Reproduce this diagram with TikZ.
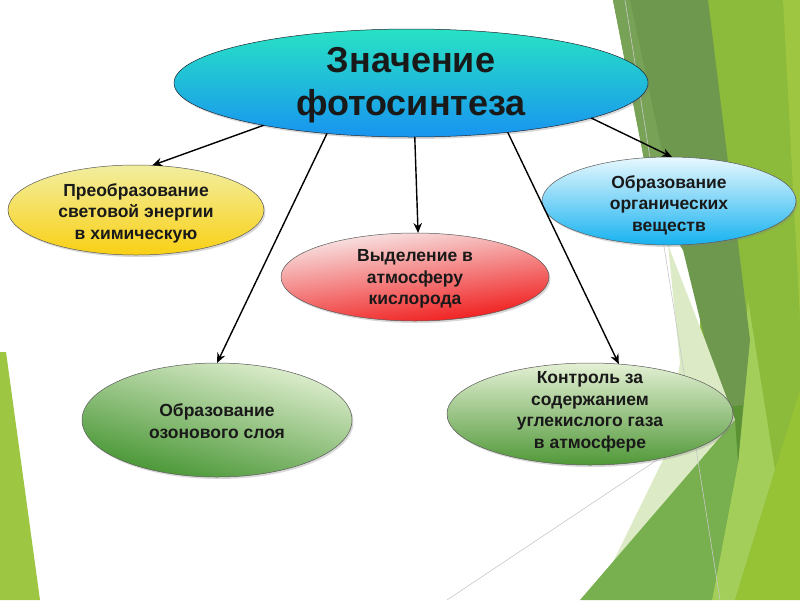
\documentclass[tikz,border=0pt]{standalone}
\usepackage{fontspec}
\setmainfont{Liberation Sans}
\usetikzlibrary{shapes.geometric,arrows.meta,shadows}
\definecolor{darkband}{RGB}{110,152,78}
\definecolor{darkbandl}{RGB}{120,162,86}
\definecolor{darkspot}{RGB}{90,146,52}
\definecolor{olive}{RGB}{140,186,58}
\definecolor{rstrip}{RGB}{158,198,64}
\definecolor{lstripe}{RGB}{164,206,90}
\definecolor{palegr}{RGB}{220,235,198}
\definecolor{medgr}{RGB}{120,176,80}
\definecolor{ygreen}{RGB}{150,194,54}
\definecolor{lefttri}{RGB}{157,198,66}
\definecolor{thinline}{RGB}{200,200,200}
\definecolor{txtc}{RGB}{25,25,25}
\definecolor{edgec}{RGB}{90,90,90}
\definecolor{mainedge}{RGB}{30,40,50}
\definecolor{mainA}{RGB}{40,226,196}
\definecolor{mainB}{RGB}{34,200,240}
\definecolor{mainC}{RGB}{24,148,240}
\definecolor{yelA}{RGB}{242,238,160}
\definecolor{yelB}{RGB}{249,208,20}
\definecolor{redA}{RGB}{248,236,236}
\definecolor{redM}{RGB}{242,110,110}
\definecolor{redB}{RGB}{240,20,20}
\definecolor{bluA}{RGB}{232,248,254}
\definecolor{bluB}{RGB}{22,178,240}
\definecolor{ozA}{RGB}{226,240,210}
\definecolor{ozM}{RGB}{148,198,116}
\definecolor{ozB}{RGB}{68,148,48}
\definecolor{coA}{RGB}{228,240,212}
\definecolor{coM}{RGB}{168,208,136}
\definecolor{coB}{RGB}{80,152,56}
\begin{document}
\begin{tikzpicture}[x=1pt,y=-1pt,
  bubble/.style={ellipse, draw=edgec, line width=0.5pt, inner sep=0pt, outer sep=0pt,
    drop shadow={shadow xshift=1.5pt, shadow yshift=-2pt, opacity=0.3}},
  lbl/.style={align=center, text=txtc, inner sep=0pt, font=\bfseries\fontsize{17.5}{21.5}\selectfont},
  arr/.style={draw=black, line width=1.4pt, -{Stealth[length=10pt,width=8.5pt]}}]
\useasboundingbox (0,0) rectangle (800,600);
\fill[white] (0,0) rectangle (800,600);
% background decoration
\fill[olive] (700,0) -- (800,0) -- (800,600) -- (700,600) -- cycle;
\fill[rstrip] (783,0) -- (800,0) -- (800,320) -- cycle;
\fill[lstripe] (748,300) -- (775,470) -- (735,600) -- (712,600) -- (738,463) -- cycle;
\fill[ygreen] (735,600) -- (775,470) -- (800,390) -- (800,600) -- cycle;
\fill[darkband] (613,0) -- (708,0) -- (750,340) -- (738,463) -- (705,340) -- (683,250) -- (652,200) -- cycle;
\fill[darkbandl] (613,0) -- (630,0) -- (683,250) -- (652,200) -- cycle;
\fill[darkspot] (728,407) -- (743,405) -- (738,463) -- cycle;
\fill[palegr] (668,245) -- (705,340) -- (735,420) -- (613,562) -- (663,460) -- (680,363) -- cycle;
\fill[medgr] (580,600) -- (735,420) -- (738,463) -- (712,600) -- cycle;
\fill[lefttri] (0,352) -- (6,352) -- (40,600) -- (0,600) -- cycle;
\draw[thinline, line width=0.6pt] (625,0) -- (720,600);
\draw[thinline, line width=0.6pt] (447,600) -- (720,418);
% ellipses
\node[bubble, draw=mainedge, minimum width=474pt, minimum height=108pt,
  top color=mainA, middle color=mainB, bottom color=mainC] (main) at (411,83) {};
\node[bubble, minimum width=256pt, minimum height=90pt,
  top color=yelA, bottom color=yelB] (energy) at (136,210) {};
\node[bubble, minimum width=268pt, minimum height=88pt,
  top color=redA, middle color=redM, bottom color=redB, shading angle=8] (oxygen) at (415,277) {};
\node[bubble, minimum width=254pt, minimum height=88pt,
  top color=bluA, bottom color=bluB] (organic) at (669,201) {};
\node[bubble, minimum width=270pt, minimum height=114pt,
  top color=ozA, middle color=ozM, bottom color=ozB, shading angle=-15] (ozone) at (217,420) {};
\node[bubble, minimum width=286pt, minimum height=102pt,
  top color=coA, middle color=coM, bottom color=coB] (co2) at (590,414) {};
% texts
\node[lbl, font=\bfseries\fontsize{36}{43}\selectfont] (maintxt) at ([yshift=-2pt]main.center) {Значение\\фотосинтеза};
\node[lbl] (energytxt) at ([yshift=-3pt]energy.center) {Преобразование\\световой энергии\\в химическую};
\node[lbl] (oxygentxt) at ([yshift=-2pt]oxygen.center) {Выделение в\\атмосферу\\кислорода};
\node[lbl] (organictxt) at ([yshift=-4pt]organic.center) {Образование\\органических\\веществ};
\node[lbl] (ozonetxt) at ([yshift=-1pt]ozone.center) {Образование\\озонового слоя};
\node[lbl] (co2txt) at ([yshift=2pt]co2.center) {Контроль за\\содержанием\\углекислого газа\\в атмосфере};
% arrows
\draw[arr] (main.196.8) -- (energy.70);
\draw[arr] (main.211) -- (ozone.north);
\draw[arr] (main.-86) -- (oxygen.86);
\draw[arr] (main.-27) -- (co2.60);
\draw[arr] (main.-11.7) -- (organic.86);
\end{tikzpicture}
\end{document}
